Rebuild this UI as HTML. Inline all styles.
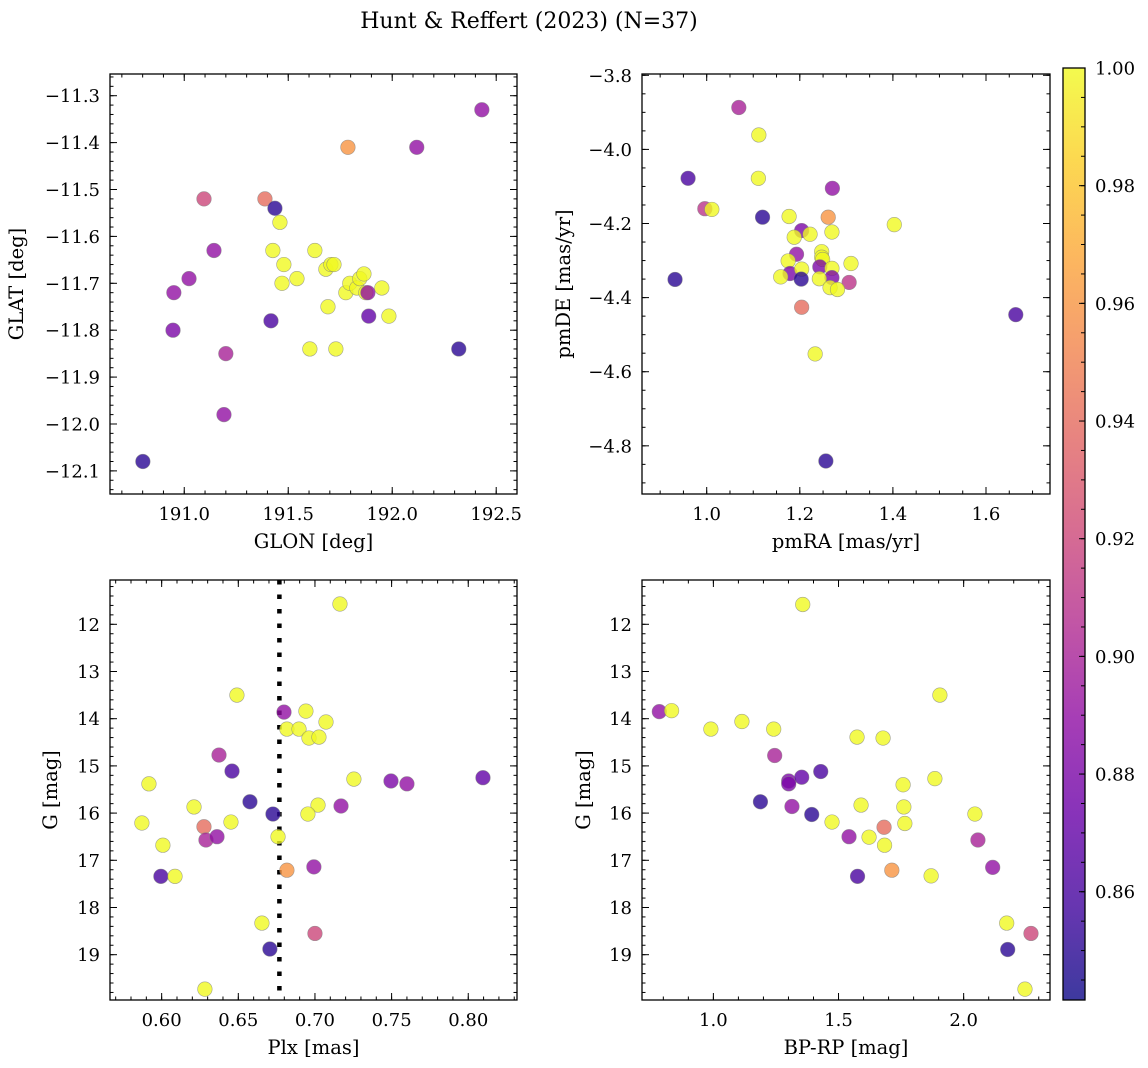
<!DOCTYPE html>
<html><head><meta charset="utf-8">
<style>
html,body{margin:0;padding:0;background:#fff;}
svg{display:block;font-family:"DejaVu Serif","Liberation Serif",serif;}
</style></head>
<body>
<svg id="fig" width="1148" height="1068" viewBox="0 0 1148 1068" xmlns="http://www.w3.org/2000/svg">
<defs>
<linearGradient id="cbgrad" x1="0" y1="1" x2="0" y2="0">
<stop offset="0" stop-color="#0d0887"/><stop offset="0.1" stop-color="#41049d"/><stop offset="0.2" stop-color="#6a00a8"/><stop offset="0.3" stop-color="#8f0da4"/><stop offset="0.4" stop-color="#b12a90"/><stop offset="0.5" stop-color="#cc4778"/><stop offset="0.6" stop-color="#e16462"/><stop offset="0.7" stop-color="#f2844b"/><stop offset="0.8" stop-color="#fca636"/><stop offset="0.9" stop-color="#fcce25"/><stop offset="1" stop-color="#f0f921"/>
</linearGradient>
</defs>
<text x="529" y="28" font-size="22" text-anchor="middle">Hunt &amp; Reffert (2023) (N=37)</text>
</svg>
<script>
// ---- data ----
const glon=[190.801,190.950,190.946,191.023,191.095,191.143,191.200,191.191,191.388,191.436,191.417,191.460,191.426,191.479,191.470,191.542,191.604,191.628,191.681,191.705,191.720,191.691,191.729,191.777,191.796,191.830,191.844,191.864,191.873,191.950,191.984,191.787,191.883,191.887,192.118,192.320,192.431];
const glat=[-12.08,-11.72,-11.80,-11.69,-11.52,-11.63,-11.85,-11.98,-11.52,-11.54,-11.78,-11.57,-11.63,-11.66,-11.70,-11.69,-11.84,-11.63,-11.67,-11.66,-11.66,-11.75,-11.84,-11.72,-11.70,-11.71,-11.69,-11.68,-11.72,-11.71,-11.77,-11.41,-11.72,-11.77,-11.41,-11.84,-11.33];
const probA=[0.85,0.89,0.88,0.89,0.92,0.89,0.90,0.89,0.94,0.85,0.86,1,1,1,1,1,1,1,1,1,1,1,1,1,1,1,1,1,1,1,1,0.96,0.89,0.87,0.89,0.85,0.89];

const pmra=[1.069,0.960,0.932,0.996,1.011,1.112,1.233,1.256,1.664,1.111,1.270,1.120,1.177,1.261,1.403,1.204,1.188,1.222,1.269,1.193,1.175,1.247,1.247,1.249,1.310,1.179,1.204,1.159,1.203,1.243,1.269,1.269,1.242,1.306,1.265,1.281,1.204];
const pmde=[-3.887,-4.078,-4.351,-4.160,-4.162,-3.961,-4.552,-4.841,-4.446,-4.078,-4.105,-4.183,-4.181,-4.183,-4.203,-4.219,-4.237,-4.229,-4.223,-4.283,-4.301,-4.276,-4.291,-4.297,-4.308,-4.335,-4.323,-4.344,-4.350,-4.317,-4.321,-4.346,-4.349,-4.359,-4.373,-4.378,-4.426];
const probB=[0.90,0.86,0.85,0.91,1,1,1,0.85,0.86,1,0.89,0.85,1,0.96,1,0.88,1,1,1,0.89,1,1,1,1,1,0.88,1,1,0.85,0.88,1,0.88,1,0.91,1,1,0.94];

const plx=[0.7163,0.6491,0.6798,0.6941,0.7072,0.6817,0.6896,0.6961,0.7026,0.6374,0.6459,0.5917,0.7254,0.7496,0.7600,0.8096,0.6576,0.6211,0.7020,0.7170,0.6726,0.6954,0.5871,0.6452,0.6276,0.6289,0.6361,0.6759,0.6008,0.5995,0.6087,0.6817,0.6993,0.6654,0.7000,0.6706,0.6282];
const gmagC=[11.57,13.50,13.86,13.84,14.07,14.22,14.22,14.41,14.39,14.77,15.11,15.38,15.28,15.32,15.38,15.25,15.76,15.87,15.83,15.85,16.02,16.02,16.21,16.19,16.29,16.57,16.50,16.50,16.68,17.34,17.34,17.21,17.14,18.33,18.55,18.88,19.73];
const probC=[1,1,0.89,1,1,1,1,1,1,0.90,0.86,1,1,0.88,0.89,0.87,0.85,1,1,0.89,0.85,1,1,1,0.94,0.90,0.89,1,1,0.86,1,0.96,0.89,1,0.92,0.85,1];
const plxCut=0.6768;

const bprp=[1.357,1.905,0.784,0.833,0.990,1.114,1.241,1.574,1.678,1.245,1.429,1.301,1.301,1.353,1.758,1.885,1.188,1.314,1.590,1.761,2.045,1.393,1.474,1.765,1.682,1.542,1.622,2.057,1.684,1.576,1.713,1.870,2.116,2.172,2.269,2.176,2.245];
const gmagD=[11.58,13.50,13.85,13.83,14.22,14.06,14.22,14.39,14.41,14.78,15.12,15.32,15.38,15.24,15.40,15.27,15.76,15.86,15.83,15.87,16.02,16.03,16.19,16.22,16.30,16.50,16.51,16.57,16.68,17.34,17.21,17.33,17.15,18.33,18.55,18.89,19.73];
const probD=[1,1,0.89,1,1,1,1,1,1,0.90,0.86,0.88,0.88,0.87,1,1,0.85,0.89,1,1,1,0.85,1,1,0.94,0.89,1,0.90,1,0.86,0.96,1,0.89,1,0.92,0.85,1];

const ticksA_x=["191.0","191.5","192.0","192.5"];
const ticksA_y=["−11.3","−11.4","−11.5","−11.6","−11.7","−11.8","−11.9","−12.0","−12.1"];
const ticksB_x=["1.0","1.2","1.4","1.6"];
const ticksB_y=["−3.8","−4.0","−4.2","−4.4","−4.6","−4.8"];
const ticksC_x=["0.60","0.65","0.70","0.75","0.80"];
const ticksG=["12","13","14","15","16","17","18","19"];
const ticksD_x=["1.0","1.5","2.0"];
const ticksCB=["0.86","0.88","0.90","0.92","0.94","0.96","0.98","1.00"];
const cmin=0.8416, cmax=1.0;

// ---- helpers ----
const NS="http://www.w3.org/2000/svg";
const svg=document.getElementById('fig');
function mk(tag,attrs,parent){const e=document.createElementNS(NS,tag);for(const k in attrs)e.setAttribute(k,attrs[k]);(parent||svg).appendChild(e);return e;}
const stops=[[13,8,135],[65,4,157],[106,0,168],[143,13,164],[177,42,144],[204,71,120],[225,100,98],[242,132,75],[252,166,54],[252,206,37],[240,249,33]];
function plasma(v){let t=(v-cmin)/(cmax-cmin);t=Math.max(0,Math.min(1,t))*10;const i=Math.min(9,Math.floor(t));const f=t-i;const a=stops[i],b=stops[i+1];return 'rgb('+[0,1,2].map(k=>Math.round(a[k]+(b[k]-a[k])*f)).join(',')+')';}
function lin(d0,d1,r0,r1){return v=>r0+(v-d0)/(d1-d0)*(r1-r0);}
const TF=18, AF=19.5;

function panel(name,box,xd,yd,xMaj,xMin,yMaj,yMin,xl,yl,xlab,ylab,ylabX,xs,ys,cs){
  const g=mk('g',{},svg);
  
  
  const X=lin(xd[0],xd[1],box[0],box[2]);
  const Y=lin(yd[0],yd[1],box[3],box[1]);
  const tk=mk('g',{stroke:'#000','stroke-width':1},g);
  
  
  const eps=1e-9;
  function xt(v,len){const px=X(v);if(px<box[0]-0.1||px>box[2]+0.1)return;mk('line',{x1:px,x2:px,y1:box[3],y2:box[3]-len},tk);mk('line',{x1:px,x2:px,y1:box[1],y2:box[1]+len},tk);}
  function yt(v,len){const py=Y(v);if(py<box[1]-0.1||py>box[3]+0.1)return;mk('line',{y1:py,y2:py,x1:box[0],x2:box[0]+len},tk);mk('line',{y1:py,y2:py,x1:box[2],x2:box[2]-len},tk);}
  const lo=Math.min(xd[0],xd[1]),hi=Math.max(xd[0],xd[1]);
  for(let v=Math.ceil(lo/xMin-eps)*xMin;v<=hi+eps;v+=xMin)xt(v,3.5);
  const ylo=Math.min(yd[0],yd[1]),yhi=Math.max(yd[0],yd[1]);
  for(let v=Math.ceil(ylo/yMin-eps)*yMin;v<=yhi+eps;v+=yMin)yt(v,3.5);
  xl.forEach((s,i)=>{const v=xMaj[0]+i*xMaj[1];xt(v,7);
    const t=mk('text',{x:X(v),y:box[3]+26,'font-size':TF,'text-anchor':'middle'},g);t.textContent=s;
    });
  yl.forEach((s,i)=>{const v=yMaj[0]+i*yMaj[1];yt(v,7);
    const t=mk('text',{x:box[0]-10,y:Y(v)+6.5,'font-size':TF,'text-anchor':'end'},g);t.textContent=s;
    });
  const fr=mk('rect',{x:box[0],y:box[1],width:box[2]-box[0],height:box[3]-box[1],fill:'none',stroke:'#000','stroke-width':1.3},g);
  
  const xt2=mk('text',{x:(box[0]+box[2])/2,y:box[3]+54,'font-size':AF,'text-anchor':'middle'},g);xt2.textContent=xlab;
  
  const cy=(box[1]+box[3])/2;
  const yt2=mk('text',{x:ylabX,y:cy,'font-size':AF,'text-anchor':'middle',transform:'rotate(-90 '+ylabX+' '+cy+')'},g);yt2.textContent=ylab;
  
  const pts=mk('g',{},g);
  
  xs.forEach((v,i)=>{const c=mk('circle',{cx:X(v),cy:Y(ys[i]),r:7.3,fill:plasma(cs[i]),'fill-opacity':0.8,stroke:'#808080','stroke-opacity':0.7,'stroke-width':0.6},pts);
    });
  return {X,Y,g};
}

panel('panel-glon-glat',[110,74,517,494],[190.643,192.600],[-12.1493,-11.2537],[191.0,0.5],0.1,[-11.3,-0.1],0.02,ticksA_x,ticksA_y,'GLON [deg]','GLAT [deg]',23,glon,glat,probA);
panel('panel-pm',[642,74,1050,494],[0.861,1.7375],[-4.930,-3.7965],[1.0,0.2],0.05,[-3.8,-0.2],0.05,ticksB_x,ticksB_y,'pmRA [mas/yr]','pmDE [mas/yr]',570,pmra,pmde,probB);
const p3=panel('panel-plx-g',[110,580,517,1000],[0.5663,0.8318],[19.96,11.0614],[0.60,0.05],0.01,[12,1],0.2,ticksC_x,ticksG,'Plx [mas]','G [mag]',57,plx,gmagC,probC);
panel('panel-cmd',[642,580,1050,1000],[0.7148,2.345],[19.96,11.0614],[1.0,0.5],0.1,[12,1],0.2,ticksD_x,ticksG,'BP-RP [mag]','G [mag]',590,bprp,gmagD,probD);

// dotted parallax line (drawn under points)
const ln=mk('line',{x1:p3.X(plxCut),x2:p3.X(plxCut),y1:580,y2:1000,stroke:'#000','stroke-width':4.5,'stroke-dasharray':'4.5 10'});


const ptsC=p3.g.lastChild; p3.g.insertBefore(ln,ptsC);

// colorbar
const cb=mk('g',{},svg);


const CY=lin(cmin,cmax,1000,68);
mk('rect',{x:1063,y:68,width:22,height:932,fill:'url(#cbgrad)','fill-opacity':0.8,stroke:'none'},cb);
for(let v=0.845;v<cmax-1e-9;v+=0.005){mk('line',{x1:1085,x2:1081,y1:CY(v),y2:CY(v),stroke:'#000'},cb);}
ticksCB.forEach((s,i)=>{const v=0.86+i*0.02;const y=CY(v);
  mk('line',{x1:1085,x2:1079,y1:y,y2:y,stroke:'#000'},cb);
  const t=mk('text',{x:1095,y:y+6.5,'font-size':TF},cb);t.textContent=s;
  });
mk('rect',{x:1063,y:68,width:22,height:932,fill:'none',stroke:'#000','stroke-width':1.3},cb);
</script>
</body></html>
